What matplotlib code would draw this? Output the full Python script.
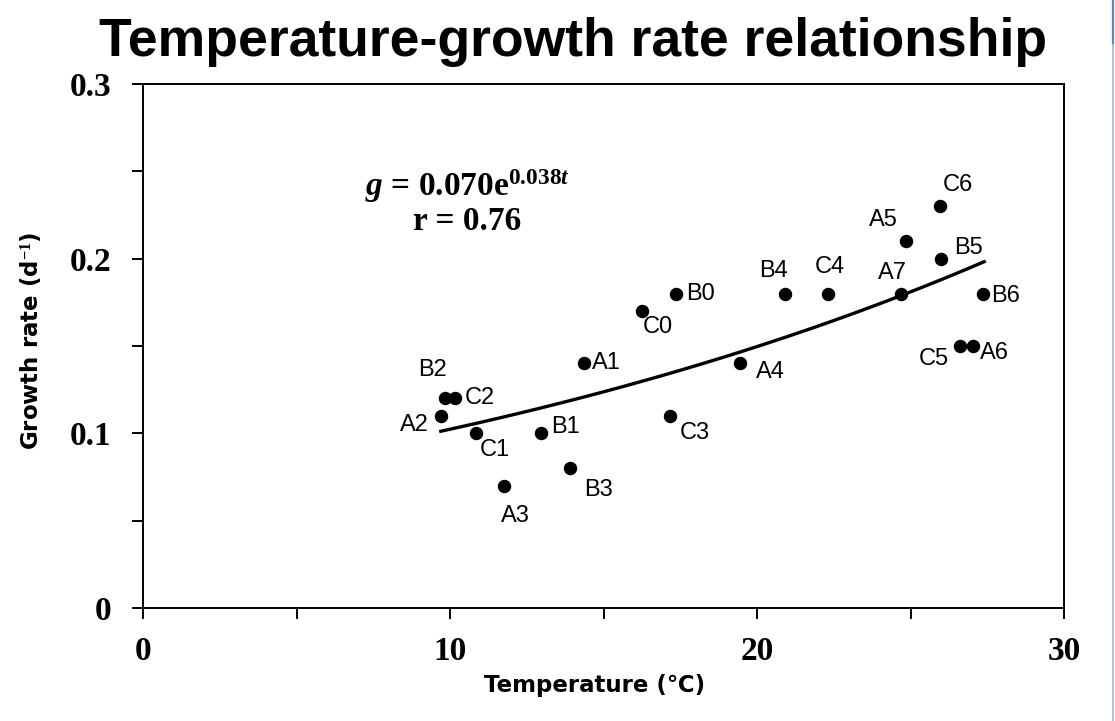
import matplotlib.pyplot as plt
import numpy as np
from matplotlib.lines import Line2D
from matplotlib.ticker import MultipleLocator

# observed points
labels = ["A2", "B2", "C2", "C1", "A3", "B1", "B3", "A1", "C0", "B0", "C3",
          "A4", "B4", "C4", "A7", "A5", "C6", "B5", "B6", "C5", "A6"]
temperature = [9.7, 9.85, 10.15, 10.85, 11.75, 12.95, 13.9, 14.35, 16.25, 17.35, 17.15,
               19.45, 20.9, 22.3, 24.7, 24.85, 25.95, 26.0, 27.35, 26.6, 27.05]
growth = [0.11, 0.12, 0.12, 0.10, 0.07, 0.10, 0.08, 0.14, 0.17, 0.18, 0.11,
          0.14, 0.18, 0.18, 0.18, 0.21, 0.23, 0.20, 0.18, 0.15, 0.15]

# label centre offsets from the point, in pixels (dx right, dy up)
label_off = {
    "A2": (-26, -9), "B2": (-13, 28), "C2": (25, 0), "C1": (19, -17),
    "A3": (12, -30), "B1": (25, 6), "B3": (29, -22), "A1": (23, 0),
    "C0": (16, -16), "B0": (25, 0), "C3": (25, -17), "A4": (30, -9),
    "B4": (-11, 23), "C4": (2, 27), "A7": (-9, 21), "A5": (-23, 21),
    "C6": (18, 21), "B5": (27, 11), "B6": (23, -2), "C5": (-26, -13),
    "A6": (21, -7),
}

# fitted exponential g = a * exp(b * t)
fit_a = 0.070
fit_b = 0.038
fit_range = (9.7, 27.4)

plt.rcParams['mathtext.fontset'] = 'custom'
plt.rcParams['mathtext.rm'] = 'Liberation Serif:bold'
plt.rcParams['mathtext.it'] = 'Liberation Serif:italic:bold'
plt.rcParams['mathtext.bf'] = 'Liberation Serif:bold'

fig = plt.figure(figsize=(11.15, 7.21), dpi=100)
ax = fig.add_axes([0.1283, 0.1567, 0.8260, 0.7268])

ax.scatter(temperature, growth, s=75, color='black', zorder=3)
for name, t, g in zip(labels, temperature, growth):
    dx, dy = label_off[name]
    ax.annotate(name, (t, g), xytext=(dx * 0.72, dy * 0.72), textcoords='offset points',
                ha='center', va='center', fontsize=17, family=['Liberation Sans'])

tt = np.linspace(fit_range[0], fit_range[1], 100)
ax.plot(tt, fit_a * np.exp(fit_b * tt), color='black', lw=2.4)

ax.set_xlim(0, 30)
ax.set_ylim(0, 0.3)
ax.xaxis.set_major_locator(MultipleLocator(10))
ax.xaxis.set_minor_locator(MultipleLocator(5))
ax.yaxis.set_major_locator(MultipleLocator(0.1))
ax.yaxis.set_minor_locator(MultipleLocator(0.05))
ax.set_yticks([0, 0.1, 0.2, 0.3], ["0", "0.1", "0.2", "0.3"])
ax.tick_params(which='both', direction='out', length=8, width=1.4, labelsize=24)
ax.tick_params(axis='x', pad=12)
ax.tick_params(axis='y', pad=15)
for lab in ax.get_xticklabels() + ax.get_yticklabels():
    lab.set_fontfamily('Liberation Serif')
    lab.set_fontweight('bold')
for sp in ax.spines.values():
    sp.set_linewidth(1.4)

ax.set_xlabel("Temperature (℃)", fontsize=16.5, fontweight='bold',
              family=['DejaVu Sans', 'Noto Sans CJK JP'])
ax.xaxis.set_label_coords(0.49, -0.125)
ax.set_ylabel("Growth rate (d$^{-1}$)", fontsize=16.5, fontweight='bold',
              family=['DejaVu Sans', 'Noto Sans CJK JP'])
ax.yaxis.set_label_coords(-0.107, 0.51)

ax.text(0.352, 0.805, r"$g$ = 0.070e$^{\mathrm{0.038}\mathit{t}}$", transform=ax.transAxes,
        ha='center', va='center', fontsize=24, fontweight='bold', family='Liberation Serif')
ax.text(0.352, 0.738, "r = 0.76", transform=ax.transAxes,
        ha='center', va='center', fontsize=24, fontweight='bold', family='Liberation Serif')

fig.text(0.514, 0.942, "Temperature-growth rate relationship", ha='center', va='center',
         fontsize=38.5, fontweight='bold', family='Liberation Sans')

# thin blue border line at the right edge
fig.add_artist(Line2D([0.9985, 0.9985], [0.0, 1.0], transform=fig.transFigure,
                      color='#9bb5d6', lw=1.2))
fig.add_artist(Line2D([0.9985, 0.9985], [0.94, 1.0], transform=fig.transFigure,
                      color='#5f86b8', lw=1.6))

fig.savefig("out.png", dpi=100)
